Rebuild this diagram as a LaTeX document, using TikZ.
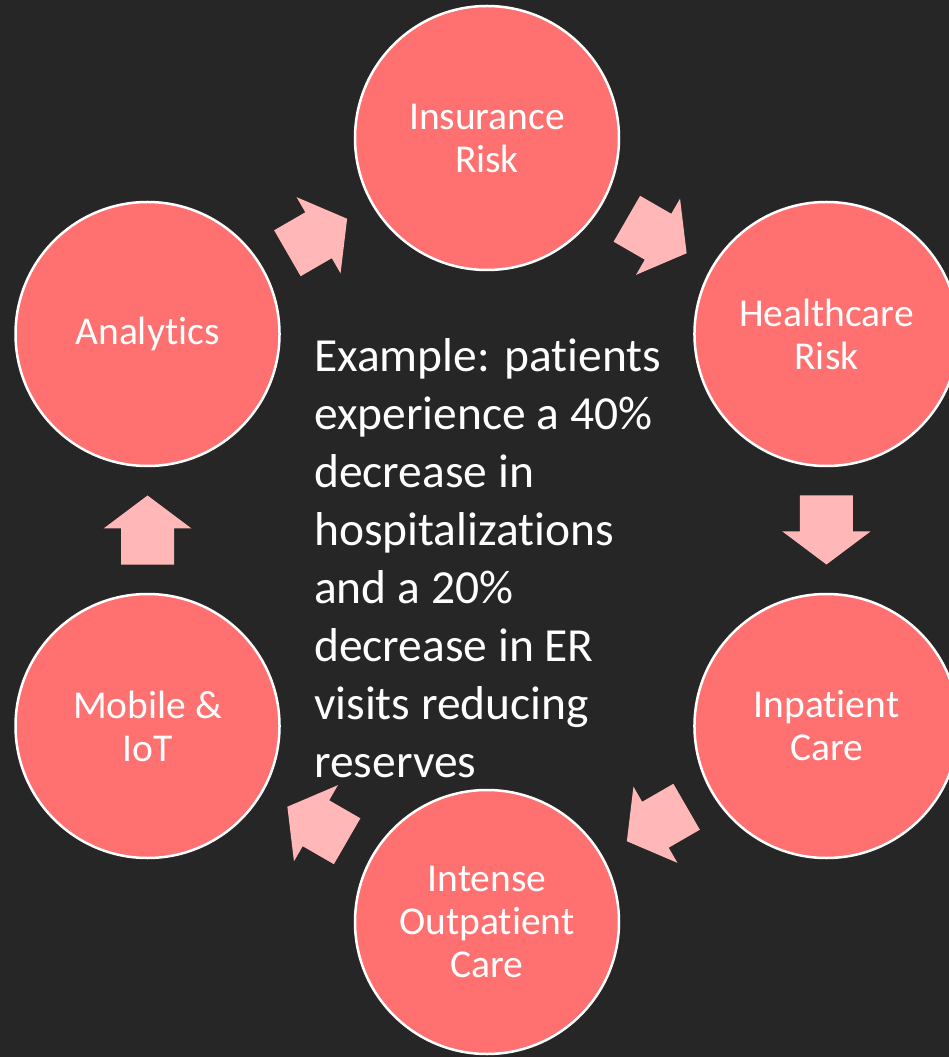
\documentclass[tikz,border=0pt]{standalone}
\usepackage{fontspec}
\setmainfont{Carlito}[Ligatures=NoCommon]
\usetikzlibrary{calc}
\definecolor{bgdark}{RGB}{38,38,38}
\definecolor{circfill}{RGB}{255,112,112}
\definecolor{arrfill}{RGB}{255,183,183}
\tikzset{
  stage/.style={circle, draw=white, line width=2.5pt, fill=circfill, minimum size=264pt, inner sep=0pt,
    text=white, align=center, font=\fontsize{39.5}{43}\selectfont},
  cyclearrow/.pic={\fill[arrfill] (-34.5pt,26.5pt) -- (1.5pt,26.5pt) -- (1.5pt,44pt) -- (34.5pt,0pt)
     -- (1.5pt,-44pt) -- (1.5pt,-26.5pt) -- (-34.5pt,-26.5pt) -- cycle;}
}
\begin{document}
\begin{tikzpicture}[x=1pt,y=1pt]
\fill[bgdark] (-487,-527) rectangle (462,530);
\useasboundingbox (-487,-527) rectangle (462,530);
\clip (-487,-527) rectangle (462,530);
\node[stage] (ins) at (90:392pt) {Insurance\\Risk};
\node[stage] (hc) at (30:392pt) {Healthcare\\Risk};
\node[stage] (inp) at (-30:392pt) {Inpatient\\Care};
\node[stage] (iop) at (-90:392pt) {Intense\\Outpatient\\Care};
\node[stage] (mob) at (-150:392pt) {Mobile \&\\IoT};
\node[stage] (ana) at (150:392pt) {Analytics};
\pic[rotate=-30] at ($(ins)!0.5!(hc)$) {cyclearrow};
\pic[rotate=-90] at ($(hc)!0.5!(inp)$) {cyclearrow};
\pic[rotate=-150] at ($(inp)!0.5!(iop)$) {cyclearrow};
\pic[rotate=150] at ($(iop)!0.5!(mob)$) {cyclearrow};
\pic[rotate=90] at ($(mob)!0.5!(ana)$) {cyclearrow};
\pic[rotate=30] at ($(ana)!0.5!(ins)$) {cyclearrow};
\node[anchor=base west, inner sep=0pt, text=white, align=left,
  font=\fontsize{47.5}{58}\selectfont] (ex) at (-173,-247)
  {Example: patients\\experience a 40\%\\decrease in\\hospitalizations\\and a 20\%\\decrease in ER\\visits reducing\\reserves};
\end{tikzpicture}
\end{document}
